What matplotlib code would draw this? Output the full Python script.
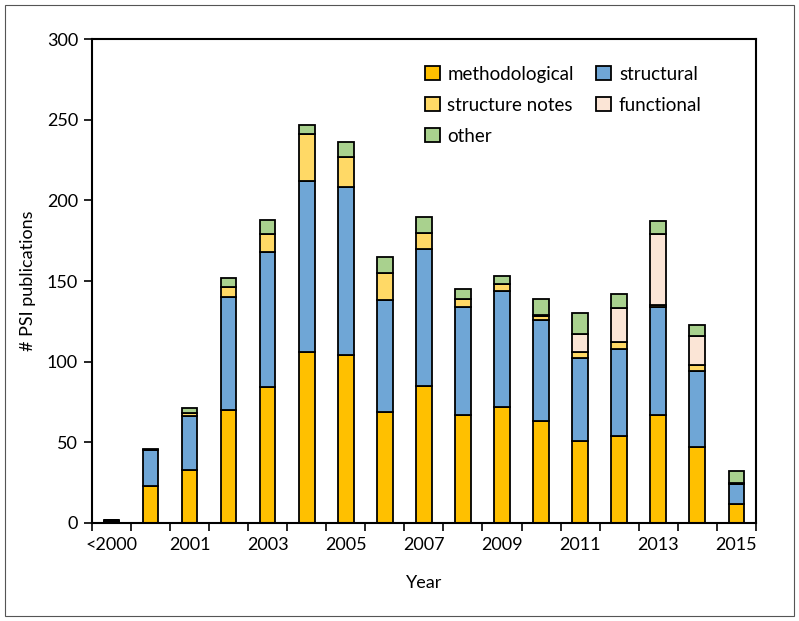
import numpy as np
import matplotlib
matplotlib.use("Agg")
import matplotlib.pyplot as plt
from matplotlib.patches import Rectangle

plt.rcParams["font.family"] = ["Lato", "DejaVu Sans"]

years = ["<2000", "2000", "2001", "2002", "2003", "2004", "2005", "2006", "2007",
         "2008", "2009", "2010", "2011", "2012", "2013", "2014", "2015"]
methodological = [1, 23, 33, 70, 84, 106, 104, 69, 85, 67, 72, 63, 51, 54, 67, 47, 12]
structural = [1, 22, 33, 70, 84, 106, 104, 69, 85, 67, 72, 63, 51, 54, 67, 47, 12]
structure_notes = [0, 0, 2, 6, 11, 29, 19, 17, 10, 5, 4, 2, 4, 4, 1, 4, 0]
functional = [0, 0, 0, 0, 0, 0, 0, 0, 0, 0, 0, 1, 11, 21, 44, 18, 1]
other = [0, 1, 3, 6, 9, 6, 9, 10, 10, 6, 5, 10, 13, 9, 8, 7, 7]

series = [
    ("methodological", methodological, "#FFC000"),
    ("structural", structural, "#6FA6D6"),
    ("structure notes", structure_notes, "#FFD966"),
    ("functional", functional, "#FBE5D6"),
    ("other", other, "#A9D18E"),
]

fig = plt.figure(figsize=(7.99, 6.21), dpi=100)
ax = fig.add_axes([0.115, 0.158, 0.831, 0.779])

x = np.arange(len(years))
bottom = np.zeros(len(years))
handles = {}
for name, vals, color in series:
    vals = np.array(vals, dtype=float)
    b = ax.bar(x, vals, bottom=bottom, width=0.4, color=color,
               edgecolor="black", linewidth=1.3, label=name)
    handles[name] = b
    bottom += vals

ax.set_xlim(-0.5, len(years) - 0.5)
ax.set_ylim(0, 300)
ax.set_yticks(range(0, 301, 50))

# tick marks between categories, labels on every other category
ax.set_xticks(np.arange(-0.5, len(years), 1.0))
ax.set_xticklabels([])
ax.set_xticks(x, minor=True)
ax.set_xticklabels([y if i % 2 == 0 else "" for i, y in enumerate(years)],
                   minor=True, fontsize=13)
ax.tick_params(axis="x", which="minor", length=0, pad=10)
ax.tick_params(axis="x", which="major", length=6, width=1.2, direction="out")
ax.tick_params(axis="y", length=6, width=1.2, labelsize=13, pad=4)

for s in ax.spines.values():
    s.set_linewidth(1.5)

ax.set_xlabel("Year", fontsize=13, labelpad=16)
ax.set_ylabel("# PSI publications", fontsize=13, labelpad=8)

# legend filled column-wise, so this order gives the row layout of the original
order = ["methodological", "structure notes", "other", "structural", "functional"]
leg = ax.legend([handles[n] for n in order], order, ncol=2, frameon=False,
                loc="upper right", bbox_to_anchor=(0.944, 0.98), fontsize=13.5,
                handlelength=0.8, handleheight=0.8, handletextpad=0.4,
                columnspacing=1.2, labelspacing=0.75)

fig.patches.append(Rectangle((0.006, 0.008), 0.988, 0.984, transform=fig.transFigure,
                             fill=False, edgecolor="#555555", linewidth=0.8))

fig.savefig("out.png", dpi=100)
